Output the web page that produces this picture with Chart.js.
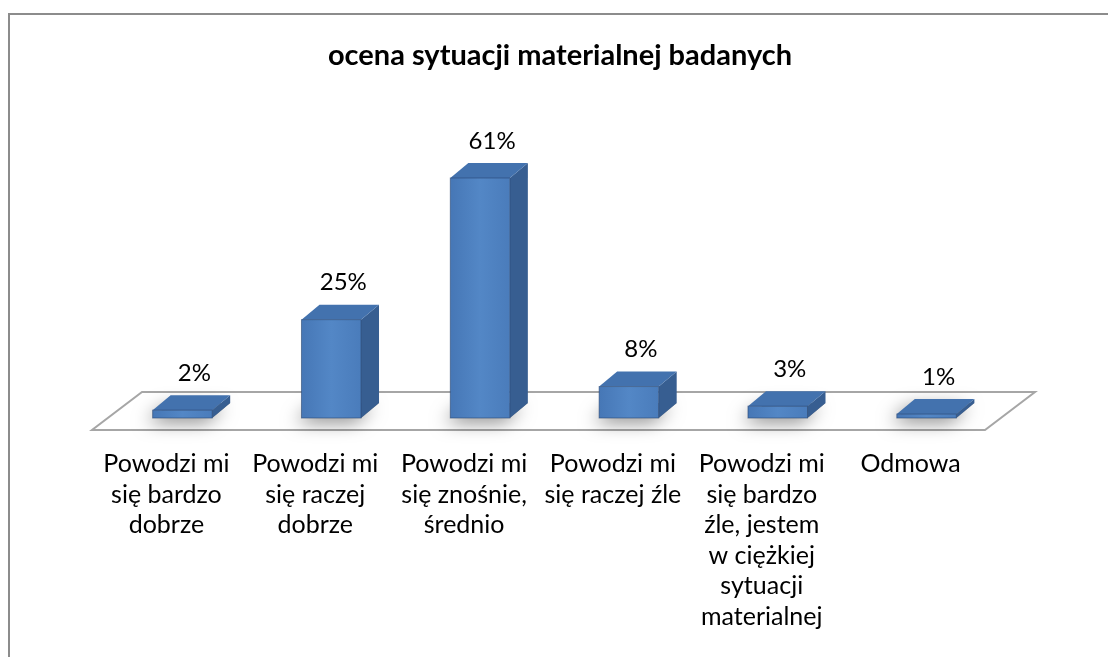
<!DOCTYPE html>
<html>
<head>
<meta charset="utf-8">
<script src="https://cdn.jsdelivr.net/npm/chart.js@4.4.1/dist/chart.umd.min.js"></script>
<style>
html,body{margin:0;padding:0;background:#fff}
#wrap{width:1108px;height:657px;position:relative}
</style>
</head>
<body>
<div id="wrap"><canvas id="c" width="1108" height="657"></canvas></div>
<script>
const categories = [
  ['Powodzi mi', 'się bardzo', 'dobrze'],
  ['Powodzi mi', 'się raczej', 'dobrze'],
  ['Powodzi mi', 'się znośnie,', 'średnio'],
  ['Powodzi mi', 'się raczej źle'],
  ['Powodzi mi', 'się bardzo', 'źle, jestem', 'w ciężkiej', 'sytuacji', 'materialnej'],
  ['Odmowa']
];
const values = [2, 25, 61, 8, 3, 1];
const chartTitle = 'ocena sytuacji materialnej badanych';

const FONT = 'Lato, "Open Sans", sans-serif';

// fake 3d: floor depth, where the bars stand on it, and bar depth
const floorD = { x: 50, y: -38 };
const barPos = { x: 16, y: -12 };
const barD = { x: 18, y: -15 };

const bars3d = {
  id: 'bars3d',
  beforeDraw(chart) {
    const ctx = chart.ctx;
    ctx.save();
    ctx.strokeStyle = '#8c8c8c';
    ctx.lineWidth = 2;
    ctx.beginPath();
    ctx.moveTo(9, 657);
    ctx.lineTo(9, 14);
    ctx.lineTo(1108, 14);
    ctx.stroke();
    ctx.restore();
  },
  beforeDatasetsDraw(chart) {
    const ctx = chart.ctx, a = chart.chartArea;
    const y0 = chart.scales.y.getPixelForValue(0);
    ctx.save();
    ctx.beginPath();
    ctx.moveTo(a.left, y0);
    ctx.lineTo(a.right, y0);
    ctx.lineTo(a.right + floorD.x, y0 + floorD.y);
    ctx.lineTo(a.left + floorD.x, y0 + floorD.y);
    ctx.closePath();
    ctx.fillStyle = '#fff';
    ctx.fill();
    ctx.strokeStyle = '#a6a6a6';
    ctx.lineWidth = 2;
    ctx.stroke();
    ctx.restore();
  },
  afterDatasetsDraw(chart) {
    const ctx = chart.ctx;
    const meta = chart.getDatasetMeta(0);
    ctx.save();
    meta.data.forEach((bar, i) => {
      const L = bar.x - bar.width / 2 + barPos.x;
      const R = bar.x + bar.width / 2 + barPos.x;
      const T = bar.y + barPos.y;
      const B = bar.base + barPos.y;
      const dx = barD.x, dy = barD.y;

      // shadow on the floor
      ctx.save();
      ctx.shadowColor = 'rgba(0,0,0,0.5)';
      ctx.shadowBlur = 18;
      ctx.shadowOffsetX = -6;
      ctx.shadowOffsetY = 4;
      ctx.fillStyle = '#888';
      ctx.beginPath();
      ctx.moveTo(L, B);
      ctx.lineTo(R, B);
      ctx.lineTo(R + dx, B + dy);
      ctx.lineTo(L + dx, B + dy);
      ctx.closePath();
      ctx.fill();
      ctx.restore();

      // side
      ctx.fillStyle = '#375e91';
      ctx.beginPath();
      ctx.moveTo(R, T);
      ctx.lineTo(R + dx, T + dy);
      ctx.lineTo(R + dx, B + dy);
      ctx.lineTo(R, B);
      ctx.closePath();
      ctx.fill();

      // top
      ctx.fillStyle = '#4372ae';
      ctx.beginPath();
      ctx.moveTo(L, T);
      ctx.lineTo(L + dx, T + dy);
      ctx.lineTo(R + dx, T + dy);
      ctx.lineTo(R, T);
      ctx.closePath();
      ctx.fill();

      // front
      const g = ctx.createLinearGradient(L, 0, R, 0);
      g.addColorStop(0, '#4677b6');
      g.addColorStop(0.5, '#5387c6');
      g.addColorStop(1, '#4a7cbb');
      ctx.fillStyle = g;
      ctx.fillRect(L, T, R - L, B - T);

      ctx.strokeStyle = 'rgba(40,70,115,0.6)';
      ctx.lineWidth = 1;
      ctx.strokeRect(L, T, R - L, B - T);

      // value label
      ctx.fillStyle = '#000';
      ctx.font = '24px ' + FONT;
      ctx.textAlign = 'center';
      ctx.textBaseline = 'middle';
      ctx.fillText(values[i] + '%', (L + R) / 2 + 12, T + dy - 22);
    });
    ctx.restore();
  }
};

new Chart(document.getElementById('c'), {
  type: 'bar',
  data: {
    labels: categories,
    datasets: [{
      data: values,
      backgroundColor: 'rgba(0,0,0,0)',
      borderWidth: 0,
      categoryPercentage: 1,
      barPercentage: 0.4
    }]
  },
  options: {
    responsive: false,
    animation: false,
    layout: { padding: { left: 20, right: 8, top: 0, bottom: 0 } },
    plugins: {
      legend: { display: false },
      tooltip: { enabled: false },
      title: {
        display: true,
        text: chartTitle,
        color: '#000',
        font: { family: FONT, size: 29, weight: 'bold', lineHeight: 1.2 },
        padding: { top: 38.6, bottom: 81.2 }
      }
    },
    scales: {
      x: {
        grid: { display: false, drawTicks: false },
        border: { display: false },
        ticks: {
          color: '#000',
          font: { family: FONT, size: 25, lineHeight: 1.22 },
          padding: 19,
          maxRotation: 0,
          autoSkip: false
        },
        afterFit: s => { s.height = 227; }
      },
      y: {
        min: 0,
        max: 70,
        grid: { display: false },
        border: { display: false },
        ticks: { display: false },
        afterFit: s => { s.width = 72; }
      },
      yR: {
        position: 'right',
        grid: { display: false },
        border: { display: false },
        ticks: { display: false },
        afterFit: s => { s.width = 115; }
      }
    }
  },
  plugins: [bars3d]
});
</script>
</body>
</html>
